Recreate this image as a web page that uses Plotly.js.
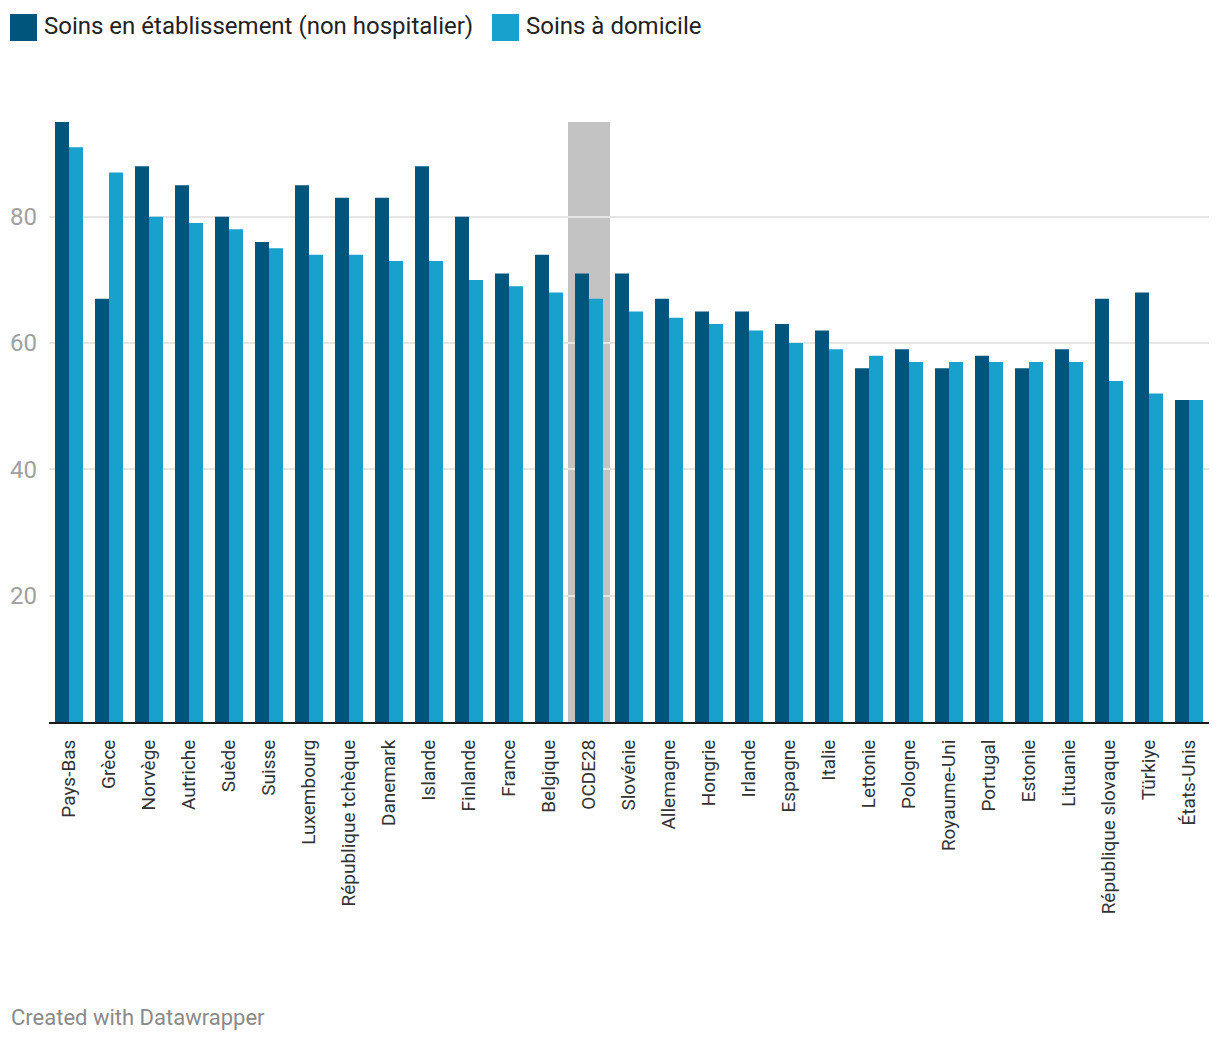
<!DOCTYPE html>
<html>
<head>
<meta charset="utf-8">
<script src="https://cdn.plot.ly/plotly-3.0.1.min.js"></script>
<style>
html,body{margin:0;padding:0;background:#fff;}
#chart{width:1220px;height:1040px;}
</style>
</head>
<body>
<div id="chart"></div>
<script>
const countries = ["Pays-Bas","Grèce","Norvège","Autriche","Suède","Suisse","Luxembourg","République tchèque","Danemark","Islande","Finlande","France","Belgique","OCDE28","Slovénie","Allemagne","Hongrie","Irlande","Espagne","Italie","Lettonie","Pologne","Royaume-Uni","Portugal","Estonie","Lituanie","République slovaque","Türkiye","États-Unis"];
const etablissement = [95,67,88,85,80,76,85,83,83,88,80,71,74,71,71,67,65,65,63,62,56,59,56,58,56,59,67,68,51];
const domicile = [91,87,80,79,78,75,74,74,73,73,70,69,68,67,65,64,63,62,60,59,58,57,57,57,57,57,54,52,51];
const seriesNames = ["Soins en établissement (non hospitalier)","Soins à domicile"];
const highlight = "OCDE28";
const yTicks = [20,40,60,80];

const colDark = "#00557c";
const colLight = "#19a1cd";

const W = 1220, H = 1040;
const L = 49, R = 11, T = 122, B = 318;
const pw = W - L - R, ph = H - T - B;
const px = v => (v - L) / pw;
const py = v => (H - B - v) / ph;

const hi = countries.indexOf(highlight);
const ymax = Math.max(...etablissement, ...domicile);

const traces = [
  {type:'bar', name:seriesNames[0], x:countries, y:etablissement, marker:{color:colDark}, hoverinfo:'x+y'},
  {type:'bar', name:seriesNames[1], x:countries, y:domicile, marker:{color:colLight}, hoverinfo:'x+y'}
];

const layout = {
  width: W, height: H,
  margin: {l:L, r:R, t:T, b:B, pad:0},
  paper_bgcolor:'#fff', plot_bgcolor:'#fff',
  font: {family:'Roboto, sans-serif', color:'#333'},
  barmode:'group', bargap:0.3, bargroupgap:0,
  showlegend:false,
  xaxis: {
    type:'category', tickangle:-90, ticks:'', ticklabelstandoff:8,
    tickfont:{size:19, color:'#333'},
    showline:true, linecolor:'#1a1a1a', linewidth:2, showgrid:false, zeroline:false,
    fixedrange:true
  },
  yaxis: {
    range:[0, 95], tickvals:yTicks, ticktext:yTicks.map(String),
    tickfont:{size:24, color:'#a0a0a0'}, ticks:'', ticklabelstandoff:11,
    showgrid:true, gridcolor:'#e5e5e5', gridwidth:2, zeroline:false, showline:false,
    fixedrange:true
  },
  shapes: [
    {type:'rect', layer:'below', xref:'x', yref:'y', x0:hi-0.525, x1:hi+0.525, y0:0, y1:ymax,
     fillcolor:'#c3c3c3', line:{width:0}},
    {type:'rect', xref:'paper', yref:'paper', x0:px(10), x1:px(37), y0:py(41), y1:py(14),
     fillcolor:colDark, line:{width:0}},
    {type:'rect', xref:'paper', yref:'paper', x0:px(492), x1:px(519), y0:py(41), y1:py(14),
     fillcolor:colLight, line:{width:0}}
  ],
  annotations: [
    {xref:'paper', yref:'paper', x:px(42), y:py(26), xanchor:'left', yanchor:'middle',
     text:seriesNames[0], showarrow:false, font:{size:24, color:'#222'}},
    {xref:'paper', yref:'paper', x:px(524), y:py(26), xanchor:'left', yanchor:'middle',
     text:seriesNames[1], showarrow:false, font:{size:24, color:'#222'}},
    {xref:'paper', yref:'paper', x:px(9), y:py(1017), xanchor:'left', yanchor:'middle',
     text:'Created with Datawrapper', showarrow:false, font:{size:22, color:'#8a8a8a'}}
  ]
};

Plotly.newPlot('chart', traces, layout, {displayModeBar:false, staticPlot:true});
</script>
</body>
</html>
